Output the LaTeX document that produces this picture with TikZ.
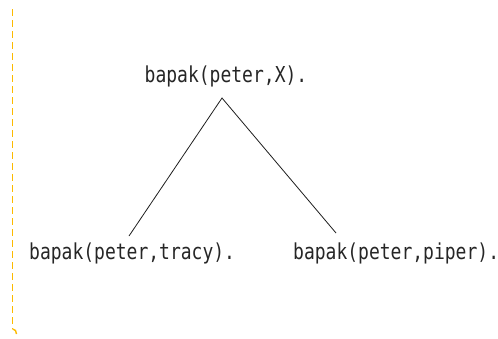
\documentclass[tikz,border=0pt]{standalone}
\usepackage{graphicx}
\usepackage{fontspec}
\setmonofont{DejaVu Sans Mono}
\definecolor{guide}{RGB}{252,186,0}
\definecolor{edgecol}{RGB}{30,30,30}
\newcommand{\tallterm}[1]{\scalebox{1}[1.22]{#1}}
\tikzset{
  term/.style={inner sep=0pt, font=\ttfamily\fontsize{18}{18}\selectfont, text=black!85},
  branch/.style={draw=edgecol, line width=0.8pt},
  guideline/.style={draw=guide, line width=1.4pt, dash pattern=on 7pt off 4pt}
}
\begin{document}
\begin{tikzpicture}[x=1pt, y=-1pt]
  \useasboundingbox[fill=white] (0,0) rectangle (498,338);
  % vertical dashed guide on the left edge
  \coordinate (gtop) at (12.7,9);
  \coordinate (gbot) at (12.7,329);
  \coordinate (ghook) at (15.5,330.5);
  \coordinate (gend) at (16.5,334);
  \draw[guideline] (gtop) -- (gbot);
  \draw[draw=guide, line width=1.4pt] (gbot) -- (ghook) -- (gend);
  % goal and its two solutions
  \node[term, anchor=base] (root) at (226,82) {\tallterm{bapak(peter,X).}};
  \node[term, anchor=base west] (left) at (29,259) {\tallterm{bapak(peter,tracy).}};
  \node[term, anchor=base west] (right) at (293,259) {\tallterm{bapak(peter,piper).}};
  % branches of the search tree
  \coordinate (apex) at (222,98);
  \coordinate (lend) at (129,236);
  \coordinate (rend) at (336,233);
  \draw[branch] (lend) -- (apex) -- (rend);
\end{tikzpicture}
\end{document}
